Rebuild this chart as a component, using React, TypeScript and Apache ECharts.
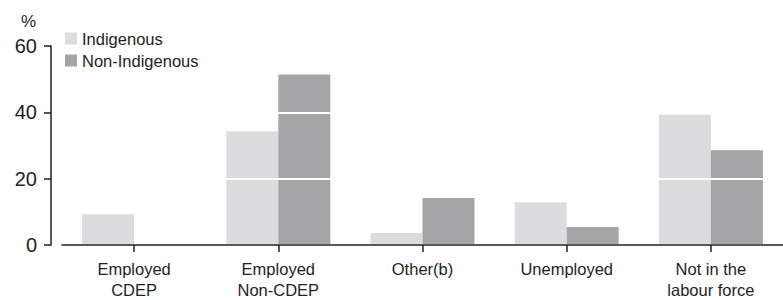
import React, { useEffect, useRef } from "react";
import * as echarts from "echarts";

const categories = ["Employed\nCDEP", "Employed\nNon-CDEP", "Other(b)", "Unemployed", "Not in the\nlabour force"];
const indigenous = [9.3, 34.3, 3.6, 12.9, 39.3];
const nonIndigenous = [0, 51.4, 14.2, 5.4, 28.6];
const yTicks = { min: 0, max: 60, interval: 20 };

const FONT = "Liberation Sans, Arial, sans-serif";
const TXT = "#231f20";

export default function App() {
  const ref = useRef<HTMLDivElement>(null);
  useEffect(() => {
    if (!ref.current) return;
    const chart = echarts.init(ref.current, undefined, { renderer: "svg" });
    chart.setOption({
      animation: false,
      textStyle: { fontFamily: FONT, color: TXT },
      grid: { left: 62, right: -8, top: 46, bottom: 54 },
      legend: {
        orient: "vertical",
        left: 65,
        top: 30,
        itemWidth: 12,
        itemHeight: 12,
        itemGap: 5,
        itemStyle: { borderWidth: 0 },
        icon: "rect",
        padding: 0,
        textStyle: { fontFamily: FONT, fontSize: 16.5, color: TXT },
        data: ["Indigenous", "Non-Indigenous"],
      },
      graphic: [
        { type: "text", left: 21, top: 13, style: { text: "%", fontFamily: FONT, fontSize: 17, fill: TXT } },
      ],
      xAxis: {
        type: "category",
        data: categories,
        z: 5,
        axisLine: { show: true, lineStyle: { color: TXT, width: 1.5 } },
        axisTick: { show: true, alignWithLabel: true, length: 7, lineStyle: { color: TXT, width: 1.5 } },
        axisLabel: { fontFamily: FONT, fontSize: 16.5, color: TXT, margin: 13, lineHeight: 21, interval: 0 },
      },
      yAxis: {
        type: "value",
        min: yTicks.min,
        max: yTicks.max,
        interval: yTicks.interval,
        offset: 11,
        z: 3,
        axisLine: { show: true, lineStyle: { color: TXT, width: 1.5 } },
        axisTick: { show: true, length: 7, lineStyle: { color: TXT, width: 1.5 } },
        axisLabel: { fontFamily: FONT, fontSize: 20, color: TXT, margin: 14 },
        splitLine: { show: true, lineStyle: { color: "#ffffff", width: 2 } },
      },
      series: [
        {
          name: "Indigenous",
          type: "bar",
          data: indigenous,
          barWidth: 52,
          barGap: "0%",
          itemStyle: { color: "#dcdcde" },
        },
        {
          name: "Non-Indigenous",
          type: "bar",
          data: nonIndigenous,
          barWidth: 52,
          barGap: "0%",
          itemStyle: { color: "#a5a5a8" },
        },
      ],
    });
    return () => chart.dispose();
  }, []);
  return <div ref={ref} style={{ width: 783, height: 300, position: "absolute", left: 0, top: 0 }} />;
}
